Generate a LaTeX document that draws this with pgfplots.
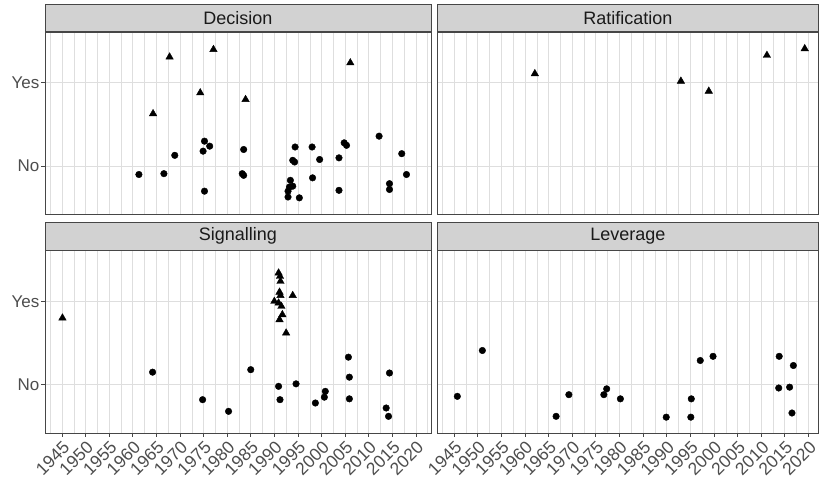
\documentclass[border=0pt]{standalone}
\usepackage{pgfplots}
\pgfplotsset{compat=1.18}
\usepackage{fontspec}
\setmainfont{Liberation Sans}
\definecolor{stripfill}{RGB}{210,210,210}
\definecolor{bordercol}{RGB}{70,70,70}
\definecolor{gridcol}{RGB}{222,222,222}
\definecolor{labcol}{RGB}{77,77,77}
\definecolor{striptext}{RGB}{26,26,26}
\pgfplotsset{
  every axis title/.style={at={(0.5,1)}, anchor=south, fill=stripfill, draw=bordercol, line width=0.9pt,
      minimum height=27.5pt, inner sep=0pt, font=\fontsize{18}{20}\selectfont, text=striptext},
  panel/.style={
    scale only axis, height=182.5pt,
    ymin=0.42, ymax=2.61,
    axis line style={draw=bordercol, line width=0.9pt},
    grid=both,
    major grid style={draw=gridcol, line width=0.8pt},
    minor grid style={draw=gridcol, line width=0.45pt},
    xtick={1945,1950,...,2020},
    minor xtick={1942.5,1947.5,...,2022.5},
    ytick={1,2},
    minor ytick={},
    xtick pos=bottom, ytick pos=left,
    tick align=outside,
    major tick length=3.5pt, minor tick length=0pt,
    major tick style={draw=bordercol, line width=0.8pt},
    xticklabels={1945,1950,1955,1960,1965,1970,1975,1980,1985,1990,1995,2000,2005,2010,2015,2020},
    yticklabels={No,Yes},
    xticklabel style={font=\fontsize{17.5}{19}\selectfont, text=labcol, rotate=45, anchor=north east, inner sep=2.5pt},
    yticklabel style={font=\fontsize{17}{19}\selectfont, text=labcol, inner sep=2pt},
    clip=false,
  },
  leftpanel/.style={panel, width=386pt, xmin=1941.4, xmax=2023.2, title style={minimum width=386pt}},
  rightpanel/.style={panel, width=380.5pt, xmin=1941.55, xmax=2022.05, title style={minimum width=380.5pt},
    yticklabels={}, ytick style={draw=none}},
  toppanel/.style={xticklabels={}, xtick style={draw=none}},
  nomark/.style={only marks, mark=*, mark size=3.3pt, black},
  yesmark/.style={only marks, mark=triangle*, mark size=4.3pt, black},
}
\begin{document}
\begin{tikzpicture}
\path[use as bounding box] (0,0) rectangle (819pt,-481pt);
% Decision
\begin{axis}[leftpanel, toppanel, at={(45pt,-32pt)}, anchor=north west, title={Decision}]
\addplot[nomark] table {
x y
1975.2 1.30
1976.3 1.24
1974.9 1.18
1968.9 1.13
1961.3 0.90
1966.6 0.91
1975.2 0.70
1983.5 1.20
1983.2 0.91
1983.5 0.89
1994.4 1.23
1998.0 1.23
1993.9 1.07
1994.3 1.05
1999.6 1.08
2003.7 1.10
2004.8 1.28
2005.3 1.25
2012.2 1.36
2017.0 1.15
2018.0 0.90
1998.1 0.86
2003.7 0.71
2014.4 0.79
2014.4 0.72
1993.4 0.83
1993.9 0.76
1993.2 0.75
1992.9 0.70
1992.9 0.63
1995.3 0.62
};
\addplot[yesmark] table {
x y
1967.8 2.31
1977.1 2.40
1974.3 1.88
1964.3 1.63
1983.9 1.80
2006.1 2.24
};
\end{axis}
% Ratification
\begin{axis}[rightpanel, toppanel, at={(437.7pt,-32pt)}, anchor=north west, title={Ratification}]
\addplot[yesmark] table {
x y
1962.1 2.11
1993.0 2.02
1998.9 1.90
2011.2 2.33
2019.2 2.41
};
\end{axis}
% Signalling
\begin{axis}[leftpanel, at={(45pt,-250.5pt)}, anchor=north west, title={Signalling}]
\addplot[nomark] table {
x y
1964.2 1.15
1974.8 0.82
1980.3 0.68
1985.0 1.18
1990.9 0.98
1991.2 0.82
1994.6 1.01
1998.7 0.78
2000.8 0.92
2000.6 0.85
2005.7 1.33
2005.9 1.09
2005.9 0.83
2014.4 1.14
2013.7 0.72
2014.2 0.62
};
\addplot[yesmark] table {
x y
1945.1 1.80
1990.9 2.34
1991.2 2.30
1991.3 2.24
1991.1 2.11
1993.9 2.07
1991.3 2.07
1990.0 2.00
1990.9 1.98
1991.5 1.94
1991.7 1.84
1991.1 1.78
1992.5 1.62
};
\end{axis}
% Leverage
\begin{axis}[rightpanel, at={(437.7pt,-250.5pt)}, anchor=north west, title={Leverage}]
\addplot[nomark] table {
x y
1945.7 0.86
1951.0 1.41
1966.6 0.62
1969.3 0.88
1976.7 0.88
1977.3 0.95
1980.2 0.83
1989.9 0.61
1995.1 0.61
1995.2 0.83
1997.1 1.29
1999.8 1.34
2013.8 1.34
2016.8 1.23
2013.7 0.96
2016.0 0.97
2016.5 0.66
};
\end{axis}
\end{tikzpicture}
\end{document}
